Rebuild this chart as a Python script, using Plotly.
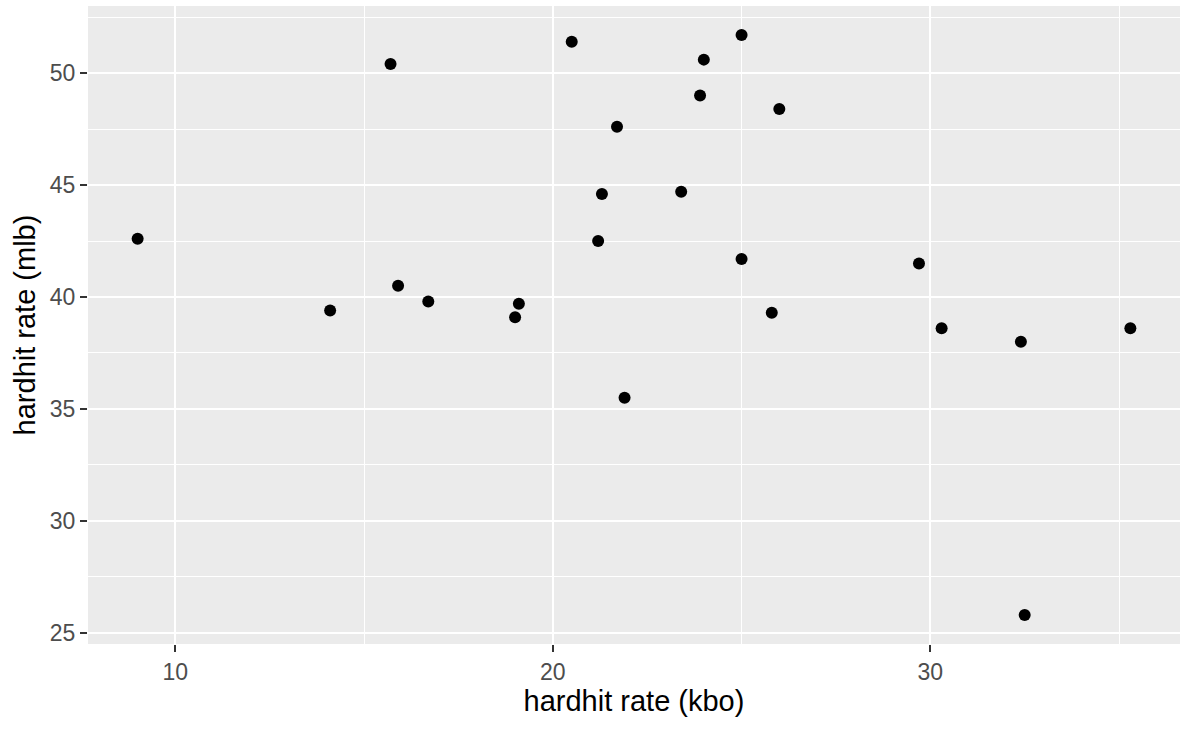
import plotly.graph_objects as go

# hardhit rate of each player in the KBO vs the MLB
kbo = [9.0, 14.1, 15.7, 15.9, 16.7, 19.0, 19.1, 20.5, 21.2, 21.3, 21.7, 21.9,
       23.4, 23.9, 24.0, 25.0, 25.0, 25.8, 26.0, 29.7, 30.3, 32.4, 32.5, 35.3]
mlb = [42.6, 39.4, 50.4, 40.5, 39.8, 39.1, 39.7, 51.4, 42.5, 44.6, 47.6, 35.5,
       44.7, 49.0, 50.6, 51.7, 41.7, 39.3, 48.4, 41.5, 38.6, 38.0, 25.8, 38.6]

x_ticks = [10, 20, 30]
y_ticks = [25, 30, 35, 40, 45, 50]


def expand(vals, mult=0.05):
    lo, hi = min(vals), max(vals)
    pad = (hi - lo) * mult
    return [lo - pad, hi + pad]


fig = go.Figure()
fig.add_trace(go.Scatter(x=kbo, y=mlb, mode='markers',
                         marker=dict(color='black', size=12),
                         showlegend=False, hoverinfo='x+y'))

fig.update_layout(width=1196, height=738,
                  margin=dict(l=88, r=16, t=6, b=94),
                  plot_bgcolor='#EBEBEB', paper_bgcolor='white',
                  font=dict(family='Liberation Sans, Arial, sans-serif', color='black'))

axis_style = dict(showline=False, zeroline=False, ticks='outside', ticklen=7, tickwidth=2,
                  tickcolor='#333333', gridcolor='white', gridwidth=2.2,
                  tickfont=dict(size=23, color='#4D4D4D'), automargin=False)

fig.update_xaxes(range=expand(kbo), tickvals=x_ticks,
                 minor=dict(dtick=5, tick0=0, gridcolor='white', gridwidth=1.1, showgrid=True, ticks=''),
                 title=dict(text='hardhit rate (kbo)', font=dict(size=29), standoff=7),
                 **axis_style)
fig.update_yaxes(range=expand(mlb), tickvals=y_ticks,
                 minor=dict(dtick=2.5, tick0=0, gridcolor='white', gridwidth=1.1, showgrid=True, ticks=''),
                 title=dict(text='hardhit rate (mlb)', font=dict(size=29), standoff=5),
                 **axis_style)

# drop the browser's default body margin so the figure sits at the top-left corner
fig.write_html("out.html", config={'displayModeBar': False},
               post_script="document.body.style.margin='0';")
